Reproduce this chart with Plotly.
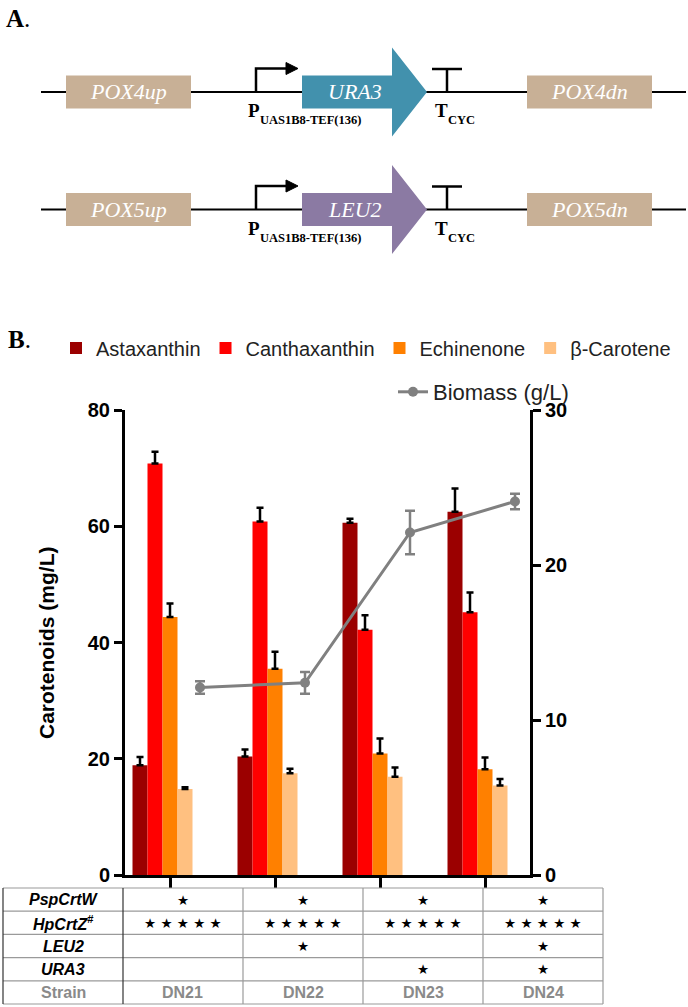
import plotly.graph_objects as go

W, H = 688, 1007


def px(x):
    return x / W


def py(y):
    return 1 - y / H


# ---------------- data ----------------
strains = ["DN21", "DN22", "DN23", "DN24"]
pigments = ["Astaxanthin", "Canthaxanthin", "Echinenone", "β-Carotene"]
pigment_colors = ["#9B0000", "#FF0000", "#FF8000", "#FFC080"]

astaxanthin = [18.9, 20.4, 60.6, 62.5]
astaxanthin_err = [1.4, 1.2, 0.7, 4.0]
canthaxanthin = [70.8, 60.8, 42.2, 45.2]
canthaxanthin_err = [2.0, 2.4, 2.5, 3.4]
echinenone = [44.4, 35.5, 20.9, 18.2]
echinenone_err = [2.3, 2.9, 2.6, 2.0]
beta_carotene = [14.8, 17.5, 16.9, 15.4]
beta_carotene_err = [0.3, 0.8, 1.6, 1.1]

biomass = [12.1, 12.4, 22.1, 24.1]
biomass_err = [0.4, 0.7, 1.4, 0.5]

left_ticks = [0, 20, 40, 60, 80]
right_ticks = [0, 10, 20, 30]

# table (copies of each cassette per strain)
table_labels = ["<b><i>PspCrtW</i></b>", "<b><i>HpCrtZ</i><sup>#</sup></b>",
                "<b><i>LEU2</i></b>", "<b><i>URA3</i></b>"]
pspcrtw_copies = [1, 1, 1, 1]
hpcrtz_copies = [5, 5, 5, 5]
leu2_copies = [0, 1, 0, 1]
ura3_copies = [0, 0, 1, 1]

# panel A constructs
constructs = [
    {"up": "POX4up", "marker": "URA3", "dn": "POX4dn", "color": "#4291AD"},
    {"up": "POX5up", "marker": "LEU2", "dn": "POX5dn", "color": "#8B7AA3"},
]
promoter_name = "UAS1B8-TEF(136)"
terminator_name = "CYC"

# ---------------- figure ----------------
fig = go.Figure()

series = [astaxanthin, canthaxanthin, echinenone, beta_carotene]
errors = [astaxanthin_err, canthaxanthin_err, echinenone_err, beta_carotene_err]
slot = 1 / 7
xidx = list(range(len(strains)))

for i, (name, vals, errs, col) in enumerate(zip(pigments, series, errors, pigment_colors)):
    fig.add_trace(go.Bar(
        x=xidx, y=vals, name=name, width=slot, offset=(-2.5 + i) * slot,
        marker=dict(color=col, line=dict(width=0)),
        error_y=dict(type="data", array=errs, arrayminus=[0] * len(errs),
                     symmetric=False, color="black", thickness=2.5, width=3.5),
        legend="legend",
    ))

fig.add_trace(go.Scatter(
    x=[i + 2 * slot for i in xidx], y=biomass, name="Biomass (g/L)",
    yaxis="y2", mode="lines+markers",
    line=dict(color="#808080", width=3),
    marker=dict(color="#808080", size=10),
    error_y=dict(type="data", array=biomass_err, color="#808080", thickness=2.5, width=5),
    legend="legend2",
))

axis_font = dict(family="Liberation Sans, Arial", size=20, color="black")

fig.update_layout(
    width=W, height=H,
    margin=dict(l=0, r=0, t=0, b=0, pad=0, autoexpand=False),
    paper_bgcolor="white", plot_bgcolor="white",
    barmode="overlay",
    showlegend=True,
    xaxis=dict(domain=[px(125), px(530)], range=[-3 * slot, 3 + 3 * slot],
               tickvals=xidx, showticklabels=False, ticks="outside", ticklen=10,
               tickwidth=2.5, tickcolor="black", showline=True, linewidth=3,
               linecolor="black", showgrid=False, zeroline=False, automargin=False),
    yaxis=dict(domain=[py(875), py(410)], range=[0, 80], tickvals=left_ticks,
               ticktext=[f"<b>{t}</b>" for t in left_ticks],
               ticks="outside", ticklen=8, tickwidth=3, tickcolor="black",
               showline=True, linewidth=3, linecolor="black", showgrid=False,
               zeroline=False, tickfont=axis_font, automargin=False),
    yaxis2=dict(overlaying="y", side="right", anchor="x", range=[0, 30],
                tickvals=right_ticks, ticktext=[f"<b>{t}</b>" for t in right_ticks],
                ticks="outside", ticklen=8, tickwidth=3, tickcolor="black",
                showline=True, linewidth=3, linecolor="black", showgrid=False,
                zeroline=False, tickfont=axis_font, automargin=False),
    legend=dict(orientation="h", x=px(56), xanchor="left", y=py(348), yanchor="middle",
                font=dict(family="Liberation Sans, Arial", size=20, color="#222"),
                bgcolor="rgba(0,0,0,0)", traceorder="normal", itemclick=False),
    legend2=dict(orientation="h", x=px(393), xanchor="left", y=py(392), yanchor="middle",
                 font=dict(family="Liberation Sans, Arial", size=22, color="#222"),
                 bgcolor="rgba(0,0,0,0)", itemclick=False),
)

shapes = []
annotations = []


def note(x, y, text, font, xanchor="center", yanchor="middle", **kw):
    d = dict(x=px(x), y=py(y), xref="paper", yref="paper", text=text, showarrow=False,
             xanchor=xanchor, yanchor=yanchor, font=font)
    d.update(kw)
    annotations.append(d)


sans = "Liberation Sans, Arial, sans-serif"
serif = "Liberation Serif, Times New Roman, serif"

# axis title
note(46, 642, "<b>Carotenoids (mg/L)</b>", dict(family=sans, size=21, color="black"), textangle=-90)

# panel labels
note(4, 19, "<b>A</b>.", dict(family=serif, size=25, color="black"), xanchor="left")
note(6, 339, "<b>B</b>.", dict(family=serif, size=25, color="black"), xanchor="left")

# ---------------- panel A ----------------
row_y = [92, 209.5]
box_color = "#C8B096"
for cons, yc in zip(constructs, row_y):
    shapes.append(dict(type="line", xref="paper", yref="paper", x0=px(41), x1=px(686),
                       y0=py(yc), y1=py(yc), line=dict(color="black", width=2)))
    for x0, x1, label in [(66, 191, cons["up"]), (527, 652, cons["dn"])]:
        shapes.append(dict(type="rect", xref="paper", yref="paper", x0=px(x0), x1=px(x1),
                           y0=py(yc + 16.5), y1=py(yc - 16.5), fillcolor=box_color,
                           line=dict(width=0)))
        note((x0 + x1) / 2, yc, f"<i>{label}</i>", dict(family=serif, size=22, color="white"))
    bx0, bx1, tip = 302, 392, 427
    bh, hh = 16.5, 44.5
    path = (f"M{px(bx0)},{py(yc - bh)} L{px(bx1)},{py(yc - bh)} L{px(bx1)},{py(yc - hh)} "
            f"L{px(tip)},{py(yc)} L{px(bx1)},{py(yc + hh)} L{px(bx1)},{py(yc + bh)} "
            f"L{px(bx0)},{py(yc + bh)} Z")
    shapes.append(dict(type="path", xref="paper", yref="paper", path=path,
                       fillcolor=cons["color"], line=dict(width=0)))
    note(355, yc, f"<i>{cons['marker']}</i>", dict(family=serif, size=22, color="white"))
    # promoter
    shapes.append(dict(type="path", xref="paper", yref="paper",
                       path=f"M{px(256)},{py(yc)} L{px(256)},{py(yc - 23.5)} L{px(288)},{py(yc - 23.5)}",
                       line=dict(color="black", width=2.5)))
    shapes.append(dict(type="path", xref="paper", yref="paper",
                       path=f"M{px(286)},{py(yc - 29.5)} L{px(298)},{py(yc - 23.5)} L{px(286)},{py(yc - 17.5)} Z",
                       fillcolor="black", line=dict(color="black", width=1)))
    note(246, yc + 19, "<b>P</b>", dict(family=serif, size=19, color="black"), xanchor="left")
    note(258, yc + 28, f"<b>{promoter_name}</b>", dict(family=serif, size=12.5, color="black"),
         xanchor="left")
    # terminator
    shapes.append(dict(type="line", xref="paper", yref="paper", x0=px(447), x1=px(447),
                       y0=py(yc), y1=py(yc - 23), line=dict(color="black", width=2.5)))
    shapes.append(dict(type="line", xref="paper", yref="paper", x0=px(432), x1=px(462),
                       y0=py(yc - 23), y1=py(yc - 23), line=dict(color="black", width=2.5)))
    note(433, yc + 19, "<b>T</b>", dict(family=serif, size=19, color="black"), xanchor="left")
    note(446, yc + 28, f"<b>{terminator_name}</b>", dict(family=serif, size=12.5, color="black"),
         xanchor="left")

# ---------------- table ----------------
col_x = [3, 123, 243, 363, 483, 603]
row_edges = [888, 911.2, 934.4, 957.6, 980.8, 1004]
grid_gray = "#9A9A9A"
for ry in row_edges:
    shapes.append(dict(type="line", xref="paper", yref="paper", x0=px(col_x[0]), x1=px(col_x[-1]),
                       y0=py(ry), y1=py(ry), line=dict(color=grid_gray, width=1.2)))
for k, cx in enumerate(col_x):
    shapes.append(dict(type="line", xref="paper", yref="paper", x0=px(cx), x1=px(cx),
                       y0=py(row_edges[0]), y1=py(row_edges[-1]),
                       line=dict(color="#333" if k < 2 else grid_gray, width=1.2)))

copies = [pspcrtw_copies, hpcrtz_copies, leu2_copies, ura3_copies]
for r, (lab, cps) in enumerate(zip(table_labels, copies)):
    yc = (row_edges[r] + row_edges[r + 1]) / 2
    note((col_x[0] + col_x[1]) / 2, yc, lab, dict(family=sans, size=16, color="black"))
    for c, n in enumerate(cps):
        if n > 0:
            note((col_x[c + 1] + col_x[c + 2]) / 2, yc, " ".join(["★"] * n),
                 dict(family="DejaVu Sans", size=13.5, color="black"))
yc = (row_edges[4] + row_edges[5]) / 2
note((col_x[0] + col_x[1]) / 2, yc, "<b>Strain</b>", dict(family=sans, size=16, color="#8A8A8A"))
for c, s in enumerate(strains):
    note((col_x[c + 1] + col_x[c + 2]) / 2, yc, f"<b>{s}</b>",
         dict(family=sans, size=16, color="#8A8A8A"))

fig.update_layout(shapes=shapes, annotations=annotations)
fig.write_html("out.html", config={"displayModeBar": False},
               post_script="document.body.style.margin='0px';document.body.style.padding='0px';")
